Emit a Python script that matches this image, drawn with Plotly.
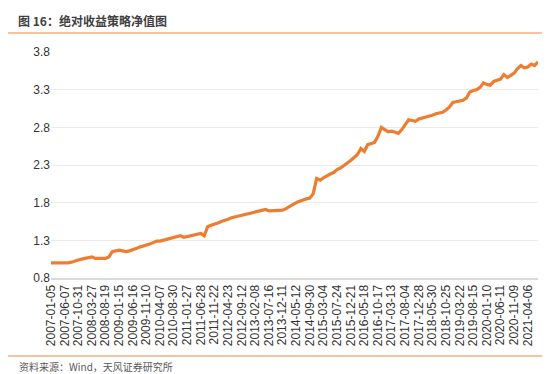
import plotly.graph_objects as go

tick_labels = [
    "2007-01-05", "2007-06-07", "2007-10-31", "2008-03-27", "2008-08-19", "2009-01-15",
    "2009-06-16", "2009-11-10", "2010-04-07", "2010-08-30", "2011-01-27", "2011-06-28",
    "2011-11-22", "2012-04-23", "2012-09-12", "2013-02-08", "2013-07-16", "2013-12-11",
    "2014-05-12", "2014-09-30", "2015-03-04", "2015-07-24", "2015-12-21", "2016-05-18",
    "2016-10-17", "2017-03-13", "2017-08-04", "2017-12-28", "2018-05-30", "2018-10-25",
    "2019-03-22", "2019-08-15", "2020-01-10", "2020-06-11", "2020-11-09", "2021-04-06",
]

# net value, sampled 4 times per labelled interval
nav_values = [
    1.00, 1.00, 0.99, 1.00, 1.00, 1.00, 1.01, 1.03, 1.04, 1.05, 1.06, 1.06,
    1.08, 1.06, 1.06, 1.06, 1.06, 1.08, 1.15, 1.16, 1.17, 1.16, 1.15, 1.16,
    1.17, 1.19, 1.21, 1.22, 1.24, 1.25, 1.27, 1.29, 1.29, 1.30, 1.31, 1.32,
    1.33, 1.35, 1.36, 1.34, 1.35, 1.35, 1.36, 1.37, 1.39, 1.36, 1.48, 1.50,
    1.51, 1.53, 1.55, 1.56, 1.58, 1.60, 1.61, 1.63, 1.63, 1.64, 1.65, 1.67,
    1.68, 1.69, 1.70, 1.71, 1.69, 1.69, 1.70, 1.70, 1.70, 1.72, 1.75, 1.77,
    1.80, 1.82, 1.84, 1.85, 1.86, 1.92, 2.12, 2.10, 2.13, 2.16, 2.18, 2.20,
    2.24, 2.26, 2.29, 2.32, 2.36, 2.40, 2.44, 2.52, 2.48, 2.57, 2.58, 2.60,
    2.68, 2.80, 2.77, 2.74, 2.75, 2.73, 2.72, 2.77, 2.84, 2.90, 2.89, 2.88,
    2.91, 2.92, 2.93, 2.94, 2.96, 2.98, 2.99, 3.00, 3.03, 3.07, 3.13, 3.14,
    3.14, 3.16, 3.19, 3.27, 3.29, 3.30, 3.33, 3.39, 3.37, 3.36, 3.41, 3.42,
    3.44, 3.50, 3.46, 3.49, 3.52, 3.58, 3.62, 3.59, 3.60, 3.64, 3.62, 3.67,
]

samples_per_label = 4
y_ticks = [0.8, 1.3, 1.8, 2.3, 2.8, 3.3, 3.8]

x_idx = list(range(len(nav_values)))
tick_pos = [i * samples_per_label for i in range(len(tick_labels))]

fig = go.Figure()
fig.add_trace(go.Scatter(
    x=x_idx, y=nav_values, mode="lines",
    line=dict(color="#ED7D31", width=3.2),
    showlegend=False, hoverinfo="skip",
))

L, R, T, B = 43, 20, 44, 104
W, H = 550, 374
pw = W - L - R
ph = H - T - B

def px_x(p):
    return (p - L) / pw

def px_y(p):
    return (H - B - p) / ph

fig.update_layout(
    width=W, height=H,
    margin=dict(l=L, r=R, t=T, b=B),
    paper_bgcolor="white", plot_bgcolor="white",
    font=dict(family="Liberation Sans, Arial, sans-serif", size=12, color="#333333"),
    xaxis=dict(
        range=[0, len(nav_values) - 1],
        tickmode="array", tickvals=tick_pos, ticktext=tick_labels,
        tickangle=-90, tickfont=dict(size=12, color="#333333"),
        showgrid=False, zeroline=False,
        showline=True, linecolor="#D9D9D9", linewidth=2,
        ticks="", ticklen=0,
    ),
    yaxis=dict(
        range=[0.8, 3.8], tickmode="array", tickvals=y_ticks,
        ticktext=[f"{v:.1f}" for v in y_ticks],
        tickfont=dict(size=12, color="#333333"),
        showgrid=True, gridcolor="#EBEBEB", gridwidth=1,
        zeroline=False, showline=False, ticks="", ticklen=0,
    ),
    shapes=[
        dict(type="line", xref="paper", yref="paper",
             x0=px_x(0), x1=px_x(W), y0=px_y(25), y1=px_y(25),
             line=dict(color="#F4B183", width=1.5)),
        dict(type="line", xref="paper", yref="paper",
             x0=px_x(0), x1=px_x(W - 2), y0=px_y(348), y1=px_y(348),
             line=dict(color="#F4B183", width=1.5)),
    ],
    annotations=[
        dict(text="<b>图 16：绝对收益策略净值图</b>", xref="paper", yref="paper",
             x=px_x(8), y=px_y(13), xanchor="left", yanchor="middle",
             showarrow=False,
             font=dict(family="Noto Sans CJK SC, sans-serif", size=12, color="#404040")),
        dict(text="资料来源：Wind，天风证券研究所", xref="paper", yref="paper",
             x=px_x(9), y=px_y(358), xanchor="left", yanchor="middle",
             showarrow=False,
             font=dict(family="Noto Sans CJK SC, sans-serif", size=10, color="#595959")),
    ],
)

fig.write_html("out.html")
